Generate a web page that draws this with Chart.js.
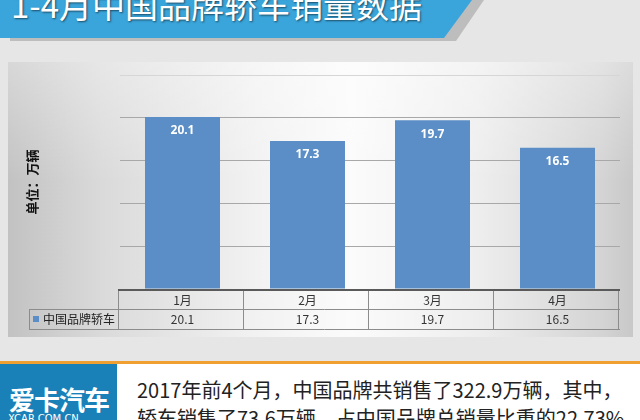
<!DOCTYPE html>
<html>
<head>
<meta charset="utf-8">
<script src="https://cdn.jsdelivr.net/npm/chart.js@4"></script>
<style>
  html, body { margin: 0; padding: 0; }
  body { width: 640px; height: 420px; position: relative; overflow: hidden; background: #e6e6e6; font-family: "Noto Sans CJK SC", "Noto Sans", sans-serif; }
  .banner-shadow { position: absolute; left: 0; top: 0; width: 484px; height: 41px; background: #bdbdbd;
    clip-path: polygon(10px 0, 484px 0, 456px 41px, 10px 41px); }
  .banner { position: absolute; left: 0; top: 0; width: 472px; height: 38px; background: #3aa5db;
    clip-path: polygon(0 0, 472px 0, 444px 38px, 0 38px); }
  .banner-text { position: absolute; left: 11px; top: -12px; font-size: 33px; line-height: 33px; color: #fff;
    text-shadow: 1px 1px 2px rgba(0,0,0,0.55); white-space: nowrap; }
  .panel { position: absolute; left: 8px; top: 62px; width: 625px; height: 275px;
    background: linear-gradient(90deg, #c2c2c2 0%, #dadada 15%, #f2f2f2 40%, #fbfbfb 55%, #eeeeee 75%, #d4d4d4 95%, #c8c8c8 100%); }
  .panel-top { position: absolute; left: 0; top: 0; right: 0; height: 120px;
    background: linear-gradient(180deg, rgba(255,255,255,0.35), rgba(255,255,255,0)); }
  canvas { position: absolute; left: 8px; top: 62px; }
  .orange { position: absolute; left: 0; top: 361px; width: 640px; height: 3px; background: #f0a030; }
  .footer { position: absolute; left: 0; top: 364px; width: 640px; height: 56px; background: #fff; }
  .logo { position: absolute; left: 0; top: 364px; width: 117px; height: 56px; background: #1a80b8; }
  .logo-cn { position: absolute; left: 9px; top: 22px; font-size: 26px; line-height: 26px; font-weight: bold; color: #fff; letter-spacing: -1px; white-space: nowrap; }
  .logo-en { position: absolute; left: 8px; top: 50px; font-size: 10px; line-height: 10px; color: #fff; font-family: "DejaVu Sans", sans-serif; white-space: nowrap; }
  .note { position: absolute; left: 137px; top: 376px; font-size: 20px; line-height: 28px; color: #222; white-space: nowrap; }
</style>
</head>
<body>
<div class="banner-shadow"></div>
<div class="banner"></div>
<div class="banner-text">1-4月中国品牌轿车销量数据</div>
<div class="panel"><div class="panel-top"></div></div>
<canvas id="barChart" width="625" height="275"></canvas>
<div class="orange"></div>
<div class="footer"></div>
<div class="logo"><div class="logo-cn">爱卡汽车</div><div class="logo-en">XCAR.COM.CN</div></div>
<div class="note">2017年前4个月，中国品牌共销售了322.9万辆，其中，<br>轿车销售了73.6万辆，占中国品牌总销量比重的22.73%</div>
<script>
const months = ['1月', '2月', '3月', '4月'];
const sedanSales = [20.1, 17.3, 19.7, 16.5];
const seriesName = '中国品牌轿车';
const yMax = 25;
const yStep = 5;

// value labels on bars + data table under the axis
const tablePlugin = {
  id: 'tablePlugin',
  afterDatasetsDraw(chart) {
    const ctx = chart.ctx;
    const meta = chart.getDatasetMeta(0);
    ctx.save();
    ctx.fillStyle = '#ffffff';
    ctx.font = 'bold 12px "Noto Sans", sans-serif';
    ctx.textAlign = 'center';
    ctx.textBaseline = 'middle';
    meta.data.forEach((bar, i) => {
      ctx.fillText(sedanSales[i].toFixed(1), bar.x, bar.y + 14);
    });
    ctx.restore();
  },
  afterDraw(chart) {
    const ctx = chart.ctx;
    const area = chart.chartArea;
    const xs = chart.scales.x;
    const colW = (area.right - area.left) / months.length;
    const top = area.bottom;
    const mid = top + 20;
    const bot = top + 40;
    const legLeft = 21;
    ctx.save();
    ctx.strokeStyle = '#8c8c8c';
    ctx.lineWidth = 1;
    ctx.beginPath();
    ctx.moveTo(legLeft, mid + 0.5); ctx.lineTo(area.right, mid + 0.5);
    ctx.moveTo(legLeft, bot + 0.5); ctx.lineTo(area.right, bot + 0.5);
    ctx.moveTo(legLeft + 0.5, mid); ctx.lineTo(legLeft + 0.5, bot);
    for (let i = 0; i <= months.length; i++) {
      const x = Math.round(area.left - 2 + i * colW) + 0.5;
      ctx.moveTo(x, top); ctx.lineTo(x, bot);
    }
    ctx.stroke();
    ctx.strokeStyle = '#5a5a5a';
    ctx.lineWidth = 2;
    ctx.beginPath();
    ctx.moveTo(area.left - 2, top + 1); ctx.lineTo(area.right, top + 1);
    ctx.stroke();

    ctx.fillStyle = '#333333';
    ctx.font = '12px "Noto Sans CJK SC", sans-serif';
    ctx.textAlign = 'center';
    ctx.textBaseline = 'middle';
    months.forEach((m, i) => {
      const cx = xs.getPixelForValue(i);
      ctx.fillText(m, cx, top + 11);
      ctx.fillText(sedanSales[i].toFixed(1), cx, mid + 10);
    });
    ctx.fillStyle = '#5b8ec6';
    ctx.fillRect(legLeft + 4, mid + 7, 6, 6);
    ctx.fillStyle = '#222222';
    ctx.textAlign = 'left';
    ctx.fillText(seriesName, legLeft + 14, mid + 10);
    ctx.restore();
  }
};

new Chart(document.getElementById('barChart').getContext('2d'), {
  type: 'bar',
  data: {
    labels: months,
    datasets: [{
      label: seriesName,
      data: sedanSales,
      backgroundColor: '#5b8ec6',
      barPercentage: 0.6,
      categoryPercentage: 1.0
    }]
  },
  options: {
    responsive: false,
    animation: false,
    layout: { padding: { left: 0, right: 13, top: 13, bottom: 48 } },
    plugins: {
      legend: { display: false },
      tooltip: { enabled: false }
    },
    scales: {
      x: { display: false },
      y: {
        min: 0,
        max: yMax,
        ticks: { display: false, stepSize: yStep },
        border: { display: false },
        grid: {
          drawTicks: false,
          color: ctx => (ctx.tick && ctx.tick.value === yMax ? '#d6d6d6' : '#a8a8a8')
        },
        title: {
          display: true,
          text: '单位：万辆',
          color: '#111',
          font: { size: 13, weight: 'bold', family: '"Noto Sans CJK SC", sans-serif' },
          padding: { top: 16, bottom: 0 }
        },
        afterFit(scale) { scale.width = 112; }
      }
    }
  },
  plugins: [tablePlugin]
});
</script>
</body>
</html>
